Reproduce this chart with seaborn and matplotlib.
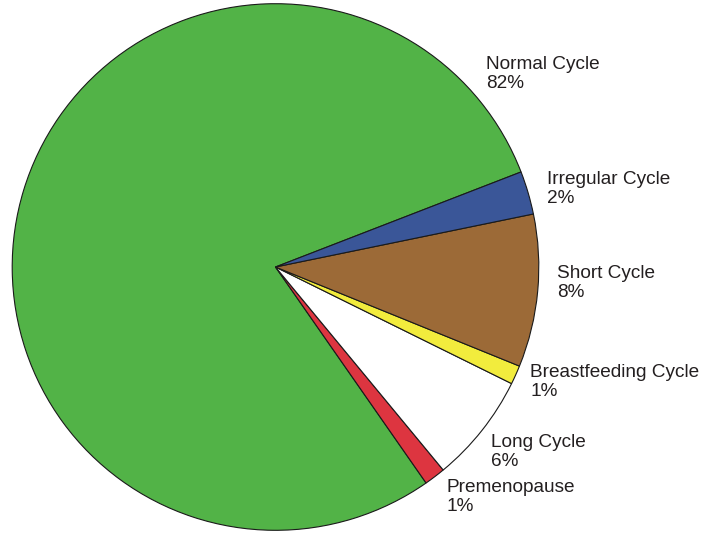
import matplotlib
matplotlib.use("Agg")
import matplotlib.pyplot as plt
import seaborn as sns

# Data (slice shares; label percentages as printed)
categories = ["Normal Cycle", "Premenopause", "Long Cycle",
              "Breastfeeding Cycle", "Short Cycle", "Irregular Cycle"]
slice_values = [78.82, 1.30, 6.71, 1.16, 9.37, 2.65]
label_percents = ["82%", "1%", "6%", "1%", "8%", "2%"]

colors = ["#52B347", "#DD3540", "#FFFFFF", "#F2EC3D", "#9C6A37", "#3A5698"]

# Label anchor positions (pixels: left x, baseline of percent line)
label_px = [(486, 88.3), (446.7, 511), (490.7, 466), (530, 396),
            (556.7, 297), (546.7, 203)]

sns.set_theme(style="white")
plt.rcParams['font.family'] = ['Liberation Sans', 'DejaVu Sans']

W, H = 707, 533
fig = plt.figure(figsize=(W / 100, H / 100), dpi=100)
ax = fig.add_axes([0, 0, 1, 1])

cx, cy, r = 275.5, 267.0, 263.3
ax.pie(slice_values, colors=colors, startangle=21.16, counterclock=True,
       radius=1.0, center=(0, 0),
       wedgeprops=dict(edgecolor="#1a1a1a", linewidth=0.8))
ax.set_xlim(-cx / r, (W - cx) / r)
ax.set_ylim(-(H - cy) / r, cy / r)
ax.set_aspect("auto")
ax.axis("off")

fs = 13.7
for name, pct, (px, py) in zip(categories, label_percents, label_px):
    ax.text(px / W, 1 - (py - 19) / H, name, transform=fig.transFigure,
            ha="left", va="baseline", fontsize=fs, color="#231F20")
    ax.text(px / W, 1 - py / H, pct, transform=fig.transFigure,
            ha="left", va="baseline", fontsize=fs, color="#231F20")

fig.savefig("out.png", dpi=100, facecolor="white")
